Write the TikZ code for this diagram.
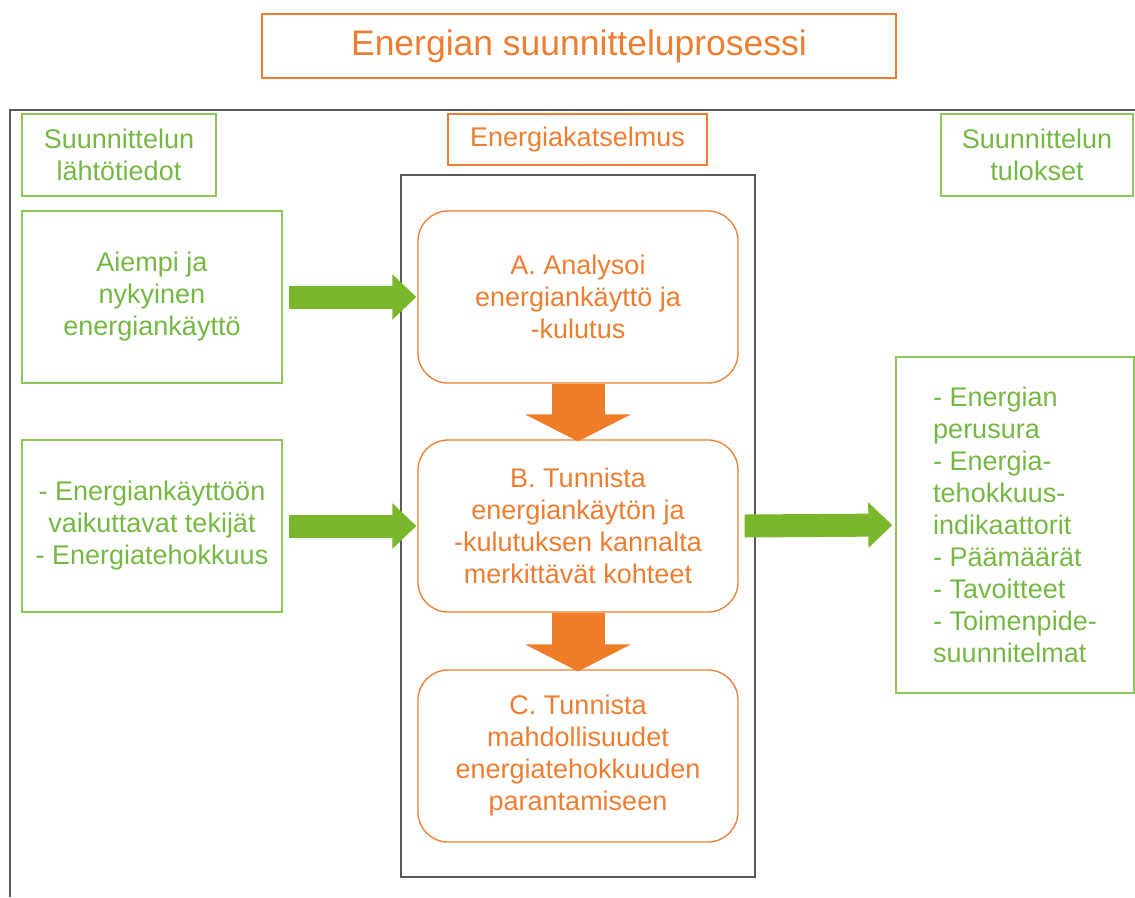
\documentclass[tikz,border=0pt]{standalone}
\usepackage{fontspec}
\setmainfont{Liberation Sans}
\usetikzlibrary{arrows.meta,calc}
\definecolor{orng}{HTML}{ED7D31}
\definecolor{orngfill}{HTML}{F07B28}
\definecolor{grntext}{HTML}{74B843}
\definecolor{grnline}{HTML}{8CC859}
\definecolor{grnfill}{HTML}{78B82A}
\definecolor{framegray}{HTML}{5A5A5A}
\begin{document}
\begin{tikzpicture}[x=1pt,y=-1pt,
  txt/.style={font=\fontsize{27}{32}\selectfont, align=center, inner sep=0pt},
  gbox/.style={txt, draw=grnline, line width=1.3pt, text=grntext},
  obox/.style={txt, draw=orng, line width=1.3pt, text=orng},
  step box/.style={obox, rounded corners=30pt, minimum width=320pt, minimum height=172pt},
  in box/.style={gbox, minimum width=260pt, minimum height=172pt},
  garrow/.style={grnfill, line width=23pt, -{Triangle[length=24pt,width=44pt]}},
  oarrow/.style={orngfill, line width=53pt, -{Triangle[length=27pt,width=105pt]}}]
  \useasboundingbox (0,0) rectangle (1135,897);

  % title and outer frame
  \node[obox, font=\fontsize{35.5}{40}\selectfont, minimum width=634pt, minimum height=64pt] (title) at (579,46) {Energian suunnitteluprosessi};
  \draw[framegray, line width=1.3pt] (1135,110) -- (10,110) -- (10,897);

  % column headings
  \node[gbox, minimum width=194pt, minimum height=82pt] (inhead) at (119,155) {Suunnittelun\\lähtötiedot};
  \node[obox, minimum width=259pt, minimum height=51pt] (audithead) at (577.5,139.5) {Energiakatselmus};
  \node[gbox, minimum width=192pt, minimum height=82pt] (outhead) at (1037,155) {Suunnittelun\\tulokset};

  % energy audit frame
  \node[draw=framegray, line width=1.3pt, minimum width=354pt, minimum height=702pt, inner sep=0pt] (audit) at (578,526) {};

  % inputs
  \node[in box] (in1) at (152,297) {Aiempi ja\\nykyinen\\energiankäyttö};
  \node[in box] (in2) at (152,526) {- Energiankäyttöön\\vaikuttavat tekijät\\- Energiatehokkuus};

  % audit steps
  \node[step box] (stepA) at (578,297) {A. Analysoi\\energiankäyttö ja\\-kulutus};
  \node[step box] (stepB) at (578,526) {B. Tunnista\\energiankäytön ja\\-kulutuksen kannalta\\merkittävät kohteet};
  \node[step box] (stepC) at (578,756) {C. Tunnista\\mahdollisuudet\\energiatehokkuuden\\parantamiseen};

  % results
  \node[gbox, align=left, minimum width=238pt, minimum height=336pt] (results) at (1015,525)
    {- Energian\\perusura\\- Energia-\\tehokkuus-\\indikaattorit\\- Päämäärät\\- Tavoitteet\\- Toimenpide-\\suunnitelmat};

  % block arrows
  \draw[garrow] ([xshift=6pt]in1.east) -- ([xshift=-1pt]stepA.west);
  \draw[garrow] ([xshift=6pt]in2.east) -- ([xshift=-1pt]stepB.west);
  \draw[garrow] ([xshift=6pt]stepB.east) -- ([xshift=-3pt]results.west);
  \draw[oarrow] (stepA.south) -- ([yshift=-2pt]stepB.north);
  \draw[oarrow] (stepB.south) -- ([yshift=-2pt]stepC.north);
\end{tikzpicture}
\end{document}
